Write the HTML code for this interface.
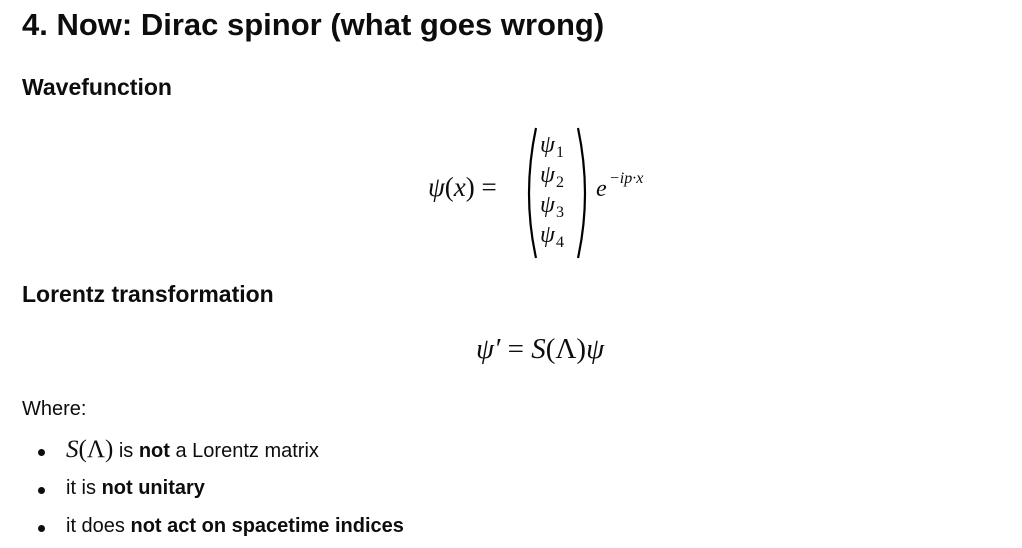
<!DOCTYPE html>
<html><head><meta charset="utf-8"><style>
body{margin:0;width:1022px;height:548px;background:#fff;color:#0d0d0d;font-family:"Liberation Sans",sans-serif;position:relative;overflow:hidden}
.a{position:absolute;white-space:nowrap}
.m{font-family:"Liberation Serif",serif;font-style:italic}
.r{font-family:"Liberation Serif",serif;font-style:normal}
.s{position:absolute;font-family:"Liberation Serif",serif;font-style:normal;font-size:16px}
.dot{position:absolute;width:7px;height:7px;border-radius:50%;background:#0d0d0d}
</style></head><body>
<div class="a" style="left:22px;top:7px;font-size:31px;font-weight:bold">4. Now: Dirac spinor (what goes wrong)</div>
<div class="a" style="left:22px;top:74px;font-size:23px;font-weight:bold">Wavefunction</div>

<div class="a m" style="left:428px;top:172px;font-size:27px">ψ<span class="r">(</span>x<span class="r">) =</span></div>
<svg class="a" style="left:522px;top:124px" width="70" height="140">
<path d="M14 4 Q0 70 14 134" stroke="#000" stroke-width="2.2" fill="none"/>
<path d="M56 4 Q70 70 56 134" stroke="#000" stroke-width="2.2" fill="none"/>
</svg>
<div class="a m" style="left:540px;top:131px;font-size:24px;line-height:28px">ψ</div><div class="s" style="left:556px;top:144px">1</div>
<div class="a m" style="left:540px;top:161px;font-size:24px;line-height:28px">ψ</div><div class="s" style="left:556px;top:174px">2</div>
<div class="a m" style="left:540px;top:191px;font-size:24px;line-height:28px">ψ</div><div class="s" style="left:556px;top:204px">3</div>
<div class="a m" style="left:540px;top:221px;font-size:24px;line-height:28px">ψ</div><div class="s" style="left:556px;top:234px">4</div>
<div class="a m" style="left:596px;top:176px;font-size:24px">e</div>
<div class="a m" style="left:609px;top:170px;font-size:16px">−ip·x</div>

<div class="a" style="left:22px;top:281px;font-size:23px;font-weight:bold">Lorentz transformation</div>
<div class="a m" style="left:476px;top:333px;font-size:29px">ψ′ <span class="r">=</span> S<span class="r">(Λ)</span>ψ</div>

<div class="a" style="left:22px;top:398px;font-size:20px">Where:</div>
<div class="dot" style="left:38px;top:449px"></div>
<div class="a" style="left:66px;top:436px;font-size:20px"><span class="m" style="font-size:25px">S<span class="r">(Λ)</span></span> is <b>not</b> a Lorentz matrix</div>
<div class="dot" style="left:38px;top:487px"></div>
<div class="a" style="left:66px;top:477px;font-size:20px">it is <b>not unitary</b></div>
<div class="dot" style="left:38px;top:525px"></div>
<div class="a" style="left:66px;top:515px;font-size:20px">it does <b>not act on spacetime indices</b></div>
</body></html>
